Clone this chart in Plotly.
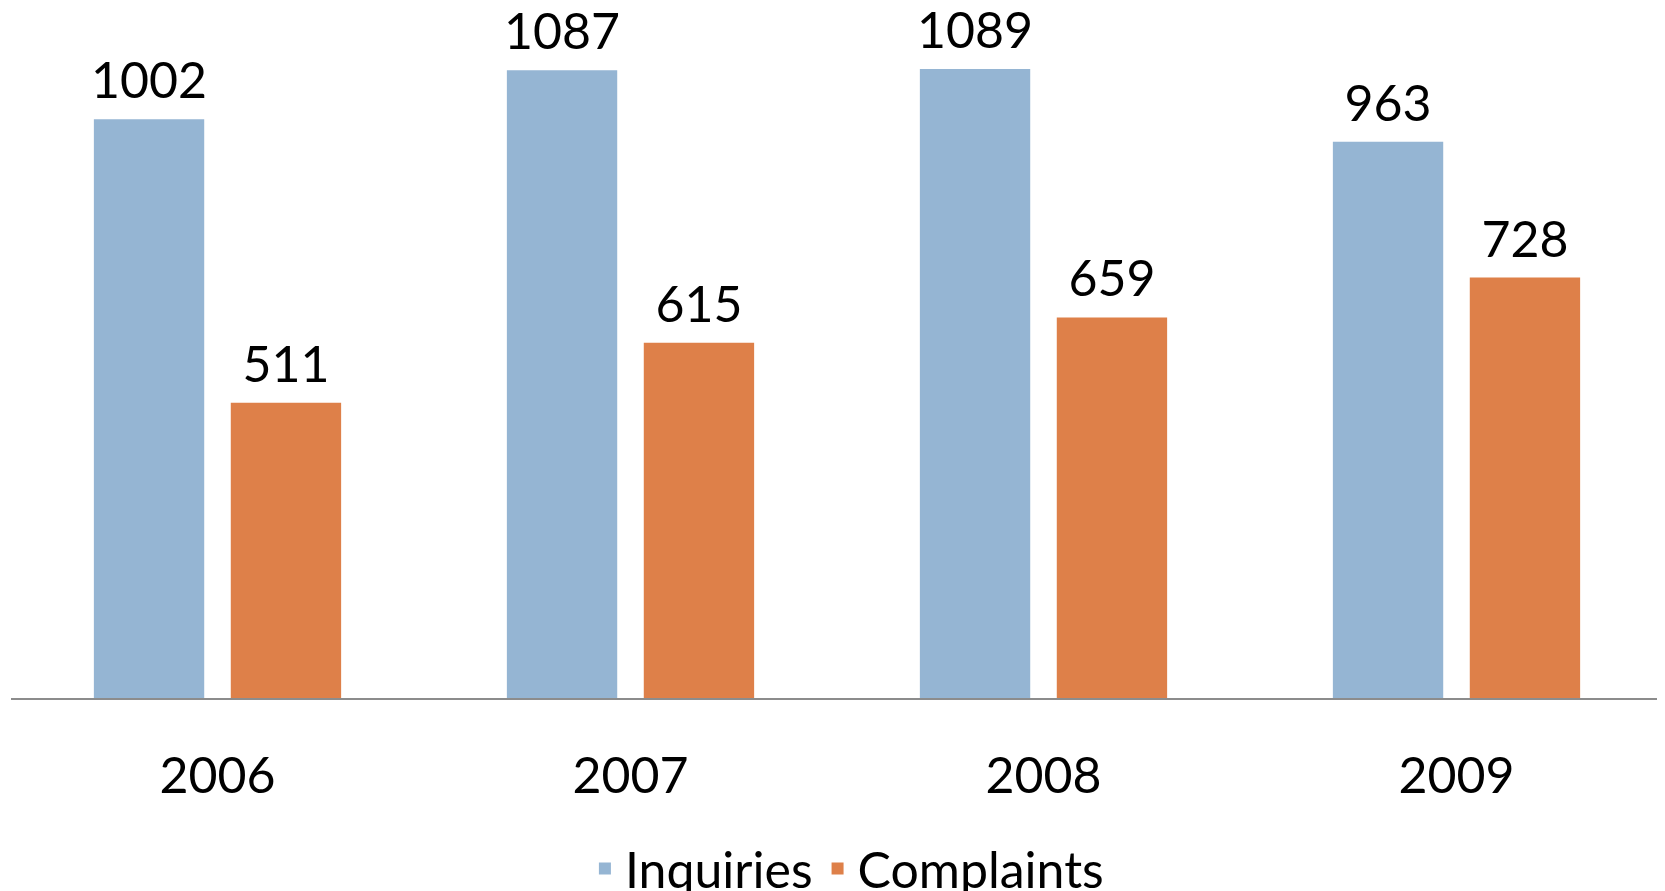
import plotly.graph_objects as go

##############################################################
# Data
##############################################################

years = ["2006", "2007", "2008", "2009"]
inquiries = [1002, 1087, 1089, 963]
complaints = [511, 615, 659, 728]

blue = "#95B5D3"
orange = "#DE8049"
font_name = "Lato"

##############################################################
# Figure
##############################################################

fig = go.Figure()

fig.add_trace(go.Bar(x=years, y=inquiries, name="Inquiries",
                     marker=dict(color=blue, line=dict(width=0))))
fig.add_trace(go.Bar(x=years, y=complaints, name="Complaints",
                     marker=dict(color=orange, line=dict(width=0))))

# value labels, grouped like the bars so they sit over each one
for vals in (inquiries, complaints):
    fig.add_trace(go.Scatter(
        x=years, y=vals, mode="markers+text",
        text=[str(v) for v in vals], textposition="top center",
        marker=dict(size=12, opacity=0),
        textfont=dict(size=50, color="black", family=font_name),
        showlegend=False, hoverinfo="skip", cliponaxis=False
    ))

# page body adds 8px around the plot div, so the figure is 8px smaller
fig.update_layout(
    width=1657, height=883,
    barmode="group", bargap=0.337, bargroupgap=0.194,
    scattermode="group", scattergap=0.337,
    plot_bgcolor="white", paper_bgcolor="white",
    margin=dict(l=3, r=2, t=0, b=193, autoexpand=False),
    font=dict(family=font_name, size=50, color="black"),
    showlegend=True,
    legend=dict(orientation="h", x=0.506, xanchor="center",
                y=-0.247, yanchor="middle",
                font=dict(size=50), itemwidth=30,
                traceorder="normal")
)

fig.update_xaxes(showline=True, linecolor="#8C8C8C", linewidth=2,
                 ticks="", ticklabelstandoff=33, showgrid=False,
                 automargin=False)
fig.update_yaxes(visible=False, range=[0, 1194.7], showgrid=False,
                 zeroline=False, automargin=False)

fig.write_html("out.html")
